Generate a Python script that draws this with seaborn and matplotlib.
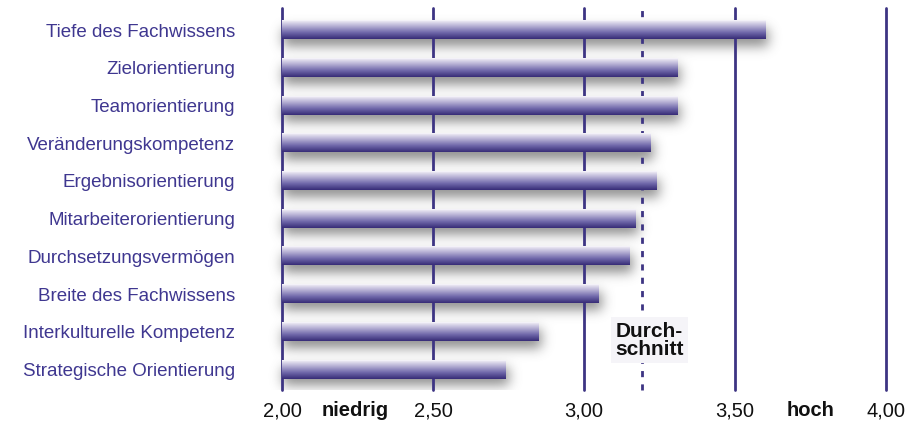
import numpy as np
import pandas as pd
import seaborn as sns
import matplotlib
import matplotlib.pyplot as plt
from matplotlib.colors import LinearSegmentedColormap

categories = ["Tiefe des Fachwissens", "Zielorientierung", "Teamorientierung",
              "Veränderungskompetenz", "Ergebnisorientierung", "Mitarbeiterorientierung",
              "Durchsetzungsvermögen", "Breite des Fachwissens", "Interkulturelle Kompetenz",
              "Strategische Orientierung"]
values = [3.60, 3.31, 3.31, 3.22, 3.24, 3.17, 3.15, 3.05, 2.85, 2.74]
tick_values = [2.0, 2.5, 3.0, 3.5, 4.0]
tick_labels = ["2,00", "2,50", "3,00", "3,50", "4,00"]
average = 3.19
average_label = "Durch-\nschnitt"
low_label, low_pos = "niedrig", 2.24
high_label, high_pos = "hoch", 3.75

PURPLE = "#3d3483"
LABEL_COL = "#3f3790"

sns.set_theme(style="white")
plt.rcParams["font.family"] = ["Liberation Sans", "DejaVu Sans"]

fig = plt.figure(figsize=(9.2, 4.28), dpi=100)
ax = fig.add_axes([0.3068, 0.0888, 0.6563, 0.8925])

df = pd.DataFrame({"Kompetenz": categories, "Wert": values})
sns.barplot(data=df, x="Wert", y="Kompetenz", order=categories, width=0.48,
            color="#5a5199", ax=ax, zorder=3, saturation=1)

XLIM = (2.0, 4.0)
YLIM = (9.54, -0.584)

# gridlines
for t in tick_values:
    ax.axvline(t, color=PURPLE, lw=2.0, zorder=2, clip_on=False)
ax.axvline(average, color=PURPLE, lw=2.0, ls=(0, (2.2, 2.6)), zorder=2, clip_on=False)

# gradient bars + shadow
cmap = LinearSegmentedColormap.from_list("bar", [
    (0.0, "#fbfafd"), (0.08, "#e4e1ef"), (0.3, "#b9b3d6"),
    (0.65, "#7169ab"), (1.0, "#362b76")])
grad = np.linspace(0, 1, 256).reshape(-1, 1)

sx0, sx1 = 1.95, 4.05
nx, ny = 640, 390
xs = np.linspace(sx0, sx1, nx)
ys = np.linspace(YLIM[1], YLIM[0], ny)
mask = np.zeros((ny, nx))
px_x = 301.0
px_y = 37.7
for p in ax.patches:
    x0, y0 = p.get_x(), p.get_y()
    w, h = p.get_width(), p.get_height()
    left = max(x0, XLIM[0])
    right = x0 + w
    top, bot = min(y0, y0 + h), max(y0, y0 + h)
    ax.imshow(grad, cmap=cmap, aspect="auto", extent=(left, right, bot, top),
              origin="upper", zorder=3.1, interpolation="bilinear")
    p.set_visible(False)
    dx, dy = 3 / px_x, 7 / px_y
    m = ((xs >= left - 3 / px_x + dx) & (xs <= right + dx))[None, :] & \
        ((ys >= top + dy) & (ys <= bot + dy))[:, None]
    mask[m] = 1.0


def blur(a, sigma, axis):
    r = int(3 * sigma)
    k = np.exp(-0.5 * (np.arange(-r, r + 1) / sigma) ** 2)
    k /= k.sum()
    return np.apply_along_axis(lambda v: np.convolve(v, k, mode="same"), axis, a)

mask = blur(blur(mask, 6, 1), 6, 0)
shadow = np.zeros((ny, nx, 4))
shadow[..., :3] = 0.36
shadow[..., 3] = np.clip(mask * 0.7, 0, 1)
ax.imshow(shadow, aspect="auto", extent=(sx0, sx1, YLIM[0], YLIM[1]), origin="upper",
          zorder=1.5, clip_on=False)

ax.set_xlim(*XLIM)
ax.set_ylim(*YLIM)
for s in ax.spines.values():
    s.set_visible(False)
ax.set_xlabel("")
ax.set_ylabel("")
ax.set_xticks(tick_values, tick_labels)
ax.tick_params(axis="x", length=0, pad=8, labelsize=14.5, labelcolor="#111111")
ax.set_yticks(range(len(categories)), categories)
ax.tick_params(axis="y", length=0, pad=34, labelsize=14, labelcolor=LABEL_COL)

# fit label widths to the reference's condensed lettering
fig.canvas.draw()
r = fig.canvas.get_renderer()
lab0 = ax.get_yticklabels()[0]
for lab in ax.get_yticklabels():
    lab.set_fontstretch("condensed")
fig.canvas.draw()
wpx = lab0.get_window_extent(r).width
size = 14 * 192.0 / wpx
for lab in ax.get_yticklabels():
    lab.set_fontsize(min(size, 15))

for txt, pos in [(low_label, low_pos), (high_label, high_pos)]:
    ax.annotate(txt, xy=(pos, 0), xycoords=ax.get_xaxis_transform(),
                xytext=(0, -8), textcoords="offset points",
                ha="center", va="top", fontsize=14.5, fontweight="bold", color="#111111")

ax.text(3.217, 8.22, average_label, ha="center", va="center", fontsize=15,
        fontweight="bold", color="#111111", linespacing=0.95, zorder=5,
        bbox=dict(boxstyle="square,pad=0.2", facecolor="#f5f4f8", edgecolor="none"))

fig.savefig("out.png", dpi=100, facecolor="white")
